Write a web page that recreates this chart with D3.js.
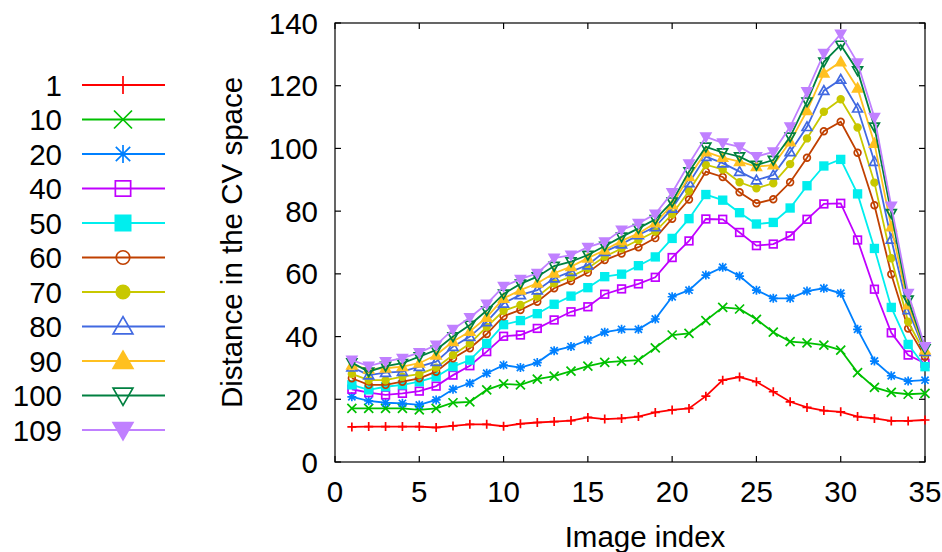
<!DOCTYPE html>
<html>
<head>
<meta charset="utf-8">
<script src="https://cdn.jsdelivr.net/npm/d3@7"></script>
<style>
  body { margin: 0; background: #fff; }
  svg { font-family: "Liberation Sans", Arial, sans-serif; }
</style>
</head>
<body>
<svg id="chart" width="942" height="552"></svg>
<script>
// legend labels and series
const seriesNames = ["1", "10", "20", "40", "50", "60", "70", "80", "90", "100", "109"];
const imageIndex = d3.range(1, 36);

const s1   = [11.2,11.3,11.3,11.3,11.3,11.0,11.5,12.0,12.0,11.4,12.2,12.6,12.9,13.2,14.2,13.7,13.9,14.5,15.8,16.6,17.1,21.0,26.1,27.1,25.6,22.4,19.2,17.4,16.4,16.0,14.5,13.9,13.1,13.1,13.4];
const s10  = [17.1,17.1,17.1,17.1,16.6,17.1,18.9,19.2,23.0,24.9,24.6,26.4,27.4,29.0,30.6,31.8,32.2,32.5,36.4,40.5,41.0,45.1,49.3,48.8,45.5,41.4,38.4,38.0,37.3,35.7,28.5,23.8,22.2,21.6,21.9];
const s20  = [20.8,19.5,18.9,18.7,18.2,19.8,23.2,25.1,28.3,30.9,30.1,31.7,35.5,36.8,38.9,41.4,42.3,42.3,45.6,52.7,54.8,59.6,62.1,59.3,54.8,52.2,52.2,54.5,55.4,53.8,42.3,32.2,27.5,25.8,26.1];
const s40  = [23.2,22.1,21.4,21.9,22.6,24.2,27.7,30.7,35.2,40.1,40.5,42.6,45.3,47.9,49.5,53.5,55.2,56.8,58.9,65.2,70.5,77.5,77.4,73.2,69.0,69.5,72.1,77.4,82.3,82.5,70.8,55.1,41.2,34.1,31.5];
const s50  = [24.6,23.0,24.0,24.6,25.6,27.2,30.4,32.5,37.8,43.8,45.1,47.3,50.3,52.9,55.6,59.1,59.9,62.6,65.4,71.3,77.6,85.3,83.5,79.5,75.9,76.4,81.0,88.1,94.4,96.5,85.5,68.1,49.3,37.5,30.4];
const s60  = [26.7,24.6,24.6,25.6,26.7,28.8,33.1,36.3,40.8,46.5,48.5,51.1,55.4,57.7,60.4,64.4,66.5,68.5,71.4,77.6,83.7,92.6,90.9,86.0,82.5,83.8,89.2,97.0,105.5,108.5,98.6,81.9,59.9,42.6,33.6];
const s70  = [28.1,26.1,26.1,27.2,28.0,30.1,34.1,37.8,43.1,48.2,50.1,52.7,57.0,59.1,61.8,65.5,68.1,70.8,73.5,79.0,86.4,94.8,93.3,89.2,87.3,88.9,95.0,103.2,111.7,115.7,106.7,89.1,65.0,44.7,34.6];
const s80  = [30.2,27.7,28.5,28.8,30.4,32.0,36.8,40.0,44.7,50.6,53.3,54.8,58.6,60.7,62.8,67.1,69.5,72.4,75.0,80.9,89.0,97.4,95.3,92.6,89.9,91.5,98.9,106.9,118.4,122.0,112.8,95.8,71.0,48.5,35.2];
const s90  = [30.9,29.6,29.9,30.4,31.5,34.1,38.4,41.6,46.1,52.2,54.8,57.0,60.2,62.3,65.0,67.6,70.5,72.9,76.2,82.0,91.0,98.9,97.1,95.8,94.2,94.7,102.1,112.0,124.0,127.6,119.2,101.6,75.0,50.1,35.7];
const s100 = [31.7,28.8,30.6,31.5,33.6,35.7,40.0,43.7,48.3,53.6,56.8,59.1,62.5,63.9,66.0,68.9,71.8,74.5,77.4,83.0,92.6,100.5,98.7,97.4,94.7,96.3,103.7,114.9,127.6,133.0,124.8,106.9,79.3,51.7,36.2];
const s109 = [32.5,30.6,32.0,33.1,34.9,37.3,42.3,46.1,50.4,56.0,58.3,60.2,65.0,66.0,68.5,70.2,74.0,76.1,79.1,85.9,95.1,103.7,101.8,100.5,97.4,98.9,106.9,118.1,130.3,136.5,127.3,109.9,81.6,53.8,36.8];

const xTicks = [0, 5, 10, 15, 20, 25, 30, 35];
const yTicks = [0, 20, 40, 60, 80, 100, 120, 140];

const allSeries = [s1, s10, s20, s40, s50, s60, s70, s80, s90, s100, s109];
const colors = ["#ff0000", "#00c000", "#0080ff", "#c000ff", "#00eeee", "#c04000",
                "#c8c800", "#4169e1", "#ffc020", "#008040", "#c080ff"];
const markers = ["plus", "cross", "star", "sqOpen", "sqFill", "circOpen", "circFill",
                 "triUpOpen", "triUpFill", "triDownOpen", "triDownFill"];

const svg = d3.select("#chart");
const plot = {left: 335, right: 925, top: 23, bottom: 462};
const fontSize = 29.5;

const x = d3.scaleLinear().domain([0, 35]).range([plot.left, plot.right]);
const y = d3.scaleLinear().domain([0, 140]).range([plot.bottom, plot.top]);

// draws one point symbol centred on 0,0
function drawMarker(g, type, color, r, sw) {
  const line = p => g.append("path").attr("d", p).attr("fill", "none")
                     .attr("stroke", color).attr("stroke-width", sw);
  if (type === "plus") line(`M${-r},0H${r}M0,${-r}V${r}`);
  else if (type === "cross") line(`M${-r},${-r}L${r},${r}M${-r},${r}L${r},${-r}`);
  else if (type === "star") line(`M${-r},0H${r}M0,${-r}V${r}M${-r*0.8},${-r*0.8}L${r*0.8},${r*0.8}M${-r*0.8},${r*0.8}L${r*0.8},${-r*0.8}`);
  else if (type.startsWith("sq")) {
    const k = r * 0.85;
    g.append("rect").attr("x", -k).attr("y", -k).attr("width", 2 * k).attr("height", 2 * k)
      .attr("fill", type === "sqFill" ? color : "none").attr("stroke", color).attr("stroke-width", sw);
  } else if (type.startsWith("circ")) {
    g.append("circle").attr("r", r * 0.75)
      .attr("fill", type === "circFill" ? color : "none").attr("stroke", color).attr("stroke-width", sw);
  } else {
    const up = type.startsWith("triUp");
    const h = r * 1.1;
    const p = up ? `M0,${-h}L${h},${h*0.75}L${-h},${h*0.75}Z` : `M0,${h}L${h},${-h*0.75}L${-h},${-h*0.75}Z`;
    g.append("path").attr("d", p)
      .attr("fill", type.endsWith("Fill") ? color : "none").attr("stroke", color).attr("stroke-width", sw);
  }
}

// frame and ticks (mirrored, pointing inward)
const axes = svg.append("g").attr("stroke", "#000").attr("stroke-width", 1.2);
axes.append("rect").attr("x", plot.left).attr("y", plot.top)
    .attr("width", plot.right - plot.left).attr("height", plot.bottom - plot.top).attr("fill", "none");

yTicks.forEach(t => {
  axes.append("line").attr("x1", plot.left).attr("x2", plot.left + 6).attr("y1", y(t)).attr("y2", y(t));
  axes.append("line").attr("x1", plot.right).attr("x2", plot.right - 6).attr("y1", y(t)).attr("y2", y(t));
});
xTicks.forEach(t => {
  axes.append("line").attr("y1", plot.bottom).attr("y2", plot.bottom - 6).attr("x1", x(t)).attr("x2", x(t));
  axes.append("line").attr("y1", plot.top).attr("y2", plot.top + 6).attr("x1", x(t)).attr("x2", x(t));
});

svg.append("g").selectAll("text").data(yTicks).enter().append("text")
   .attr("x", plot.left - 17).attr("y", d => y(d)).attr("dy", "0.36em")
   .attr("text-anchor", "end").attr("font-size", fontSize).text(d => d);

svg.append("g").selectAll("text").data(xTicks).enter().append("text")
   .attr("x", d => x(d)).attr("y", plot.bottom + 46).attr("dy", "-0.2em")
   .attr("text-anchor", "middle").attr("font-size", fontSize).text(d => d);

svg.append("text").attr("x", 645).attr("y", 547)
   .attr("text-anchor", "middle").attr("font-size", fontSize).text("Image index");

svg.append("text").attr("transform", `translate(242,${(plot.top + plot.bottom) / 2}) rotate(-90)`)
   .attr("text-anchor", "middle").attr("font-size", fontSize).text("Distance in the CV space");

// series
const lineGen = d3.line().x((d, i) => x(imageIndex[i])).y(d => y(d));
allSeries.forEach((vals, k) => {
  const g = svg.append("g");
  g.append("path").datum(vals).attr("d", lineGen)
   .attr("fill", "none").attr("stroke", colors[k]).attr("stroke-width", 1.8);
  vals.forEach((v, i) => {
    const m = g.append("g").attr("transform", `translate(${x(imageIndex[i])},${y(v)})`);
    drawMarker(m, markers[k], colors[k], 4.5, 1.7);
  });
});

// legend
const legend = svg.append("g");
seriesNames.forEach((name, k) => {
  const cy = 85 + k * 34.5;
  legend.append("text").attr("x", 62).attr("y", cy).attr("dy", "0.36em")
        .attr("text-anchor", "end").attr("font-size", fontSize).text(name);
  legend.append("line").attr("x1", 82).attr("x2", 165).attr("y1", cy).attr("y2", cy)
        .attr("stroke", colors[k]).attr("stroke-width", 1.8);
  const m = legend.append("g").attr("transform", `translate(123,${cy})`);
  drawMarker(m, markers[k], colors[k], 9, 1.7);
});
</script>
</body>
</html>
